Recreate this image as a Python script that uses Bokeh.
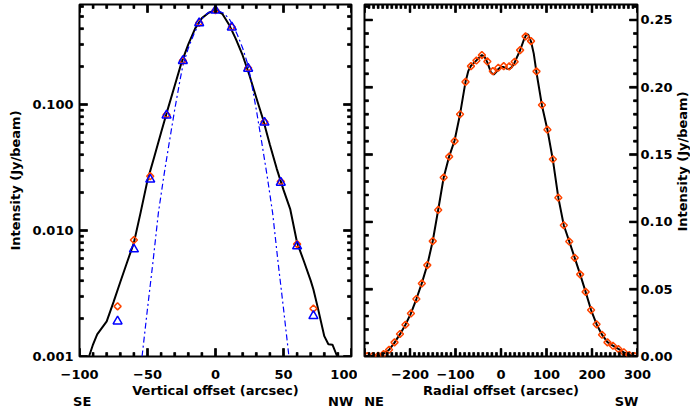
import math
from bokeh.plotting import figure
from bokeh.layouts import row
from bokeh.models import (Range1d, FixedTicker, LinearAxis, PrintfTickFormatter)
from bokeh.core.properties import value
from bokeh.embed import file_html
from bokeh.resources import INLINE

FONT = "DejaVu Sans"

# ---------------- Left panel: vertical cut (log scale) ----------------
vert_line_x = [-93, -90, -87, -80, -75, -70, -65, -60, -55, -50, -45, -40, -36, -30, -25,
               -20, -15, -10, -5, 0, 5, 10, 15, 20, 25, 30, 35, 40, 45, 50, 55, 60, 65, 70,
               72, 75, 80, 83, 86, 89.5]
vert_line_y = [0.001, 0.00125, 0.0015, 0.0019, 0.0027, 0.0039, 0.0056, 0.008, 0.014, 0.025,
               0.0385, 0.060, 0.085, 0.141, 0.215, 0.30, 0.40, 0.485, 0.535, 0.56, 0.525,
               0.43, 0.33, 0.245, 0.17, 0.113, 0.076, 0.048, 0.031, 0.021, 0.0147, 0.008,
               0.0057, 0.0040, 0.0034, 0.0025, 0.00145, 0.00125, 0.00124, 0.001]

vert_pts_x = [-72, -60, -48, -36, -24, -12, 0, 12, 24, 36, 48, 60, 72]
vert_diam_y = [0.0025, 0.0084, 0.027, 0.083, 0.223, 0.445, 0.56, 0.412, 0.195, 0.073,
               0.0245, 0.0078, 0.0024]
vert_tri_y = [0.0019, 0.0071, 0.0254, 0.082, 0.222, 0.443, 0.558, 0.41, 0.193, 0.072,
              0.024, 0.0075, 0.0021]

beam_x = [-54, -50, -46, -42, -38, -34, -30, -26, -24, -20, -16, -13, -10, -6, -2, 0,
          2, 6, 10, 13, 16, 20, 24, 26, 30, 34, 38, 42, 46, 50, 54]
beam_y = [0.001, 0.0024, 0.0056, 0.0138, 0.027, 0.050, 0.091, 0.158, 0.204, 0.28, 0.36,
          0.42, 0.48, 0.53, 0.556, 0.56, 0.556, 0.53, 0.48, 0.42, 0.36, 0.28, 0.204, 0.158,
          0.091, 0.050, 0.027, 0.0138, 0.0056, 0.0024, 0.001]

vert_xrange = (-100, 100)
vert_yrange = (0.001, 0.622)
vert_xticks = [-100, -50, 0, 50, 100]
vert_xminor = [v for v in range(-90, 91, 10) if v % 50 != 0]
vert_xtick_labels = {-100: "\u2212100", -50: "\u221250"}
vert_yticks = [0.001, 0.01, 0.1]
vert_yminor = [m * 10.0 ** e for e in (-3, -2, -1) for m in range(2, 10)]

# ---------------- Right panel: radial cut (linear scale) ----------------
rad_line_x = [-300, -294, -282, -270, -258, -246, -234, -222, -210, -198, -186, -174, -162,
              -150, -138, -126, -114, -102, -90, -78, -72, -66, -54, -42, -36, -30, -22,
              -16, -10, -6, 0, 6, 12, 18, 24, 30, 42, 50, 56, 60, 66, 72, 78, 90, 102, 114,
              126, 138, 150, 162, 174, 186, 198, 210, 222, 234, 246, 258, 270, 282, 294, 300]
rad_line_y = [0.0, 0.0002, 0.0004, 0.0007, 0.0020, 0.0050, 0.0103, 0.0166, 0.0236, 0.0320,
              0.0427, 0.0545, 0.0680, 0.0858, 0.1090, 0.1330, 0.1485, 0.1605, 0.1800, 0.2040,
              0.2120, 0.2160, 0.2200, 0.2240, 0.2225, 0.2185, 0.2110, 0.2095, 0.2115, 0.2135,
              0.2150, 0.2150, 0.2140, 0.2135, 0.2150, 0.2185, 0.2275, 0.2350, 0.2395, 0.2390,
              0.2340, 0.2250, 0.2110, 0.1865, 0.1685, 0.1460, 0.1180, 0.0975, 0.0855, 0.0733,
              0.0610, 0.0480, 0.0345, 0.0240, 0.0162, 0.0107, 0.0080, 0.0056, 0.0031, 0.0012,
              0.0003, 0.0]

rad_pts_x = [-294, -282, -270, -258, -246, -234, -222, -210, -198, -186, -174, -162, -150,
             -138, -126, -114, -102, -90, -78, -66, -54, -42, -30, -18, -6,
             6, 18, 30, 42, 54, 66, 78, 90, 102, 114, 126, 138, 150, 162, 174, 186, 198,
             210, 222, 234, 246, 258, 270, 282, 294]
rad_pts_y = [0.0003, 0.0004, 0.0006, 0.0019, 0.0050, 0.0105, 0.0167, 0.0236, 0.0320, 0.0427,
             0.0543, 0.0679, 0.0857, 0.1089, 0.1330, 0.1485, 0.1600, 0.1800, 0.2040, 0.2157,
             0.2199, 0.2239, 0.2192, 0.2120, 0.2145,
             0.2157, 0.2155, 0.2190, 0.2276, 0.2378, 0.2343, 0.2118, 0.1868, 0.1685, 0.1465,
             0.1180, 0.0975, 0.0854, 0.0733, 0.0610, 0.0480, 0.0345, 0.0239, 0.0162, 0.0105,
             0.0080, 0.0056, 0.0031, 0.0011, 0.0003]

rad_xrange = (-300, 300)
rad_yrange = (0.0, 0.2615)
rad_xticks = [-300, -200, -100, 0, 100, 200, 300]
rad_xminor = [v for v in range(-290, 291, 10) if v % 100 != 0]
rad_xtick_labels = {-300: "", -200: "\u2212200", -100: "\u2212100"}
rad_yticks = [0.0, 0.05, 0.10, 0.15, 0.20, 0.25]
rad_yminor = [i / 100 for i in range(1, 27) if i % 5 != 0]

YLABEL = "Intensity (Jy/beam)"

RED = "#ff4500"
BLUE = "#0000ff"
TICK_PX = "13px"
LABEL_PX = "13px"
FW1, FW2, FH = 272, 273, 352
MAJOR_LEN, MINOR_LEN, TICK_W = 8, 4, 2
NAN = float("nan")


def style_axis(ax):
    ax.major_tick_in = 0
    ax.major_tick_out = 0
    ax.minor_tick_in = 0
    ax.minor_tick_out = 0
    ax.major_tick_line_color = None
    ax.minor_tick_line_color = None
    ax.axis_line_color = None
    ax.major_label_text_font = FONT
    ax.major_label_text_font_style = "bold"
    ax.major_label_text_font_size = TICK_PX
    ax.major_label_text_color = "black"
    ax.axis_label_text_font = FONT
    ax.axis_label_text_font_style = "bold"
    ax.axis_label_text_font_size = LABEL_PX
    ax.axis_label_text_color = "black"


def dir_axis(names, positions):
    ax = LinearAxis(ticker=FixedTicker(ticks=positions),
                    major_label_overrides={pos: n for pos, n in zip(positions, names)})
    style_axis(ax)
    ax.major_label_standoff = -7
    return ax


def inward_ticks(p, xr, yr, xt, xm, yt, ym, fw, fh, ylog=False):
    """Tick marks inside the frame on all four sides (drawn as small polygons)."""
    dx = (xr[1] - xr[0]) / fw

    def ymove(v, px):
        if ylog:
            return v * 10 ** (px * math.log10(yr[1] / yr[0]) / fh)
        return v + px * (yr[1] - yr[0]) / fh

    hw = TICK_W / 2
    boxes = []  # (left, right, bottom, top)
    for ticks, L in ((xt, MAJOR_LEN), (xm, MINOR_LEN)):
        for t in ticks:
            boxes.append((t - hw * dx, t + hw * dx, ymove(yr[0], -1), ymove(yr[0], L)))
            boxes.append((t - hw * dx, t + hw * dx, ymove(yr[1], -L), ymove(yr[1], 1)))
    for ticks, L in ((yt, MAJOR_LEN), (ym, MINOR_LEN)):
        for t in ticks:
            boxes.append((xr[0] - dx, xr[0] + dx * L, ymove(t, -hw), ymove(t, hw)))
            boxes.append((xr[1] - dx * L, xr[1] + dx, ymove(t, -hw), ymove(t, hw)))
    xs = [[l, r, r, l] for (l, r, b, t) in boxes]
    ys = [[b, b, t, t] for (l, r, b, t) in boxes]
    p.patches(xs, ys, fill_color="black", line_color="black", line_width=0.5)
    lx, ly = [], []
    for (l, r, b, t) in boxes:
        cx, cy = (l + r) / 2, (b + t) / 2
        if (r - l) / dx < 3:
            lx += [cx, cx, cx, NAN]
            ly += [b, cy, t, NAN]
        else:
            lx += [l, cx, r, NAN]
            ly += [cy, cy, cy, NAN]
    p.line(lx, ly, line_color="black", line_width=TICK_W)


def base_style(p):
    p.grid.visible = False
    p.outline_line_color = "black"
    p.outline_line_width = 2
    p.background_fill_color = "white"
    p.border_fill_color = "white"


# ---------------- Left figure ----------------
p1 = figure(frame_width=FW1, frame_height=FH, x_range=Range1d(*vert_xrange),
            y_range=Range1d(*vert_yrange), y_axis_type="log",
            output_backend="svg", toolbar_location=None,
            min_border_left=79, min_border_right=6, min_border_top=4, min_border_bottom=0)
base_style(p1)

p1.xaxis.ticker = FixedTicker(ticks=vert_xticks)
p1.xaxis.major_label_overrides = vert_xtick_labels
p1.xaxis.axis_label = "Vertical offset (arcsec)"
style_axis(p1.xaxis[0])
p1.xaxis.major_label_standoff = 13
p1.xaxis.axis_label_standoff = 1

p1.yaxis.ticker = FixedTicker(ticks=vert_yticks)
p1.yaxis.formatter = PrintfTickFormatter(format="%.3f")
p1.yaxis.axis_label = YLABEL
style_axis(p1.yaxis[0])
p1.yaxis.major_label_standoff = 6
p1.yaxis.axis_label_standoff = 6
p1.add_layout(dir_axis(["SE", "NW"], [-98, 92]), "below")

p1.line(vert_line_x, vert_line_y, line_color="black", line_width=2)
p1.line(beam_x, beam_y, line_color=BLUE, line_width=1.2, line_dash="6 3 2 3")
p1.scatter(vert_pts_x, vert_diam_y, marker="square", angle=math.pi / 4, size=5,
           fill_color=None, line_color=RED, line_width=1.5)
p1.scatter(vert_pts_x, vert_tri_y, marker="triangle", size=9,
           fill_color=None, line_color=BLUE, line_width=1.5)
inward_ticks(p1, vert_xrange, vert_yrange, vert_xticks, vert_xminor, vert_yticks,
             vert_yminor, FW1, FH, ylog=True)

# ---------------- Right figure ----------------
p2 = figure(frame_width=FW2, frame_height=FH, x_range=Range1d(*rad_xrange),
            y_range=Range1d(*rad_yrange), y_axis_location="right",
            output_backend="svg", toolbar_location=None,
            min_border_left=7, min_border_right=36, min_border_top=4, min_border_bottom=0)
base_style(p2)

p2.xaxis.ticker = FixedTicker(ticks=rad_xticks)
p2.xaxis.major_label_overrides = rad_xtick_labels
p2.xaxis.axis_label = "Radial offset (arcsec)"
style_axis(p2.xaxis[0])
p2.xaxis.major_label_standoff = 13
p2.xaxis.axis_label_standoff = 1

p2.yaxis.ticker = FixedTicker(ticks=rad_yticks)
p2.yaxis.formatter = PrintfTickFormatter(format="%.2f")
style_axis(p2.yaxis[0])
p2.yaxis.major_label_standoff = 3
p2.add_layout(dir_axis(["NE", "SW"], [-279, 276]), "below")

p2.line(rad_line_x, rad_line_y, line_color="black", line_width=2)
p2.scatter(rad_pts_x, rad_pts_y, marker="square", angle=math.pi / 4, size=5,
           fill_color=None, line_color=RED, line_width=1.5)
inward_ticks(p2, rad_xrange, rad_yrange, rad_xticks, rad_xminor, rad_yticks,
             rad_yminor, FW2, FH)

# ---------------- Strip holding the right-hand axis title ----------------
p3 = figure(frame_width=15, frame_height=FH, x_range=Range1d(0, 15), y_range=Range1d(0, FH),
            x_axis_location=None, y_axis_location=None,
            output_backend="svg", toolbar_location=None,
            min_border_left=0, min_border_right=0, min_border_top=4, min_border_bottom=0)
p3.grid.visible = False
p3.outline_line_color = None
p3.border_fill_color = "white"
p3.background_fill_color = "white"
p3.text(x=[7], y=[195], text=[YLABEL], angle=math.pi / 2,
        text_align="center", text_baseline="middle",
        text_font=value(FONT), text_font_style="bold", text_font_size=value(LABEL_PX),
        text_color="black")

layout = row(p1, p2, p3)
open("out.html", "w").write(file_html(layout, INLINE))
